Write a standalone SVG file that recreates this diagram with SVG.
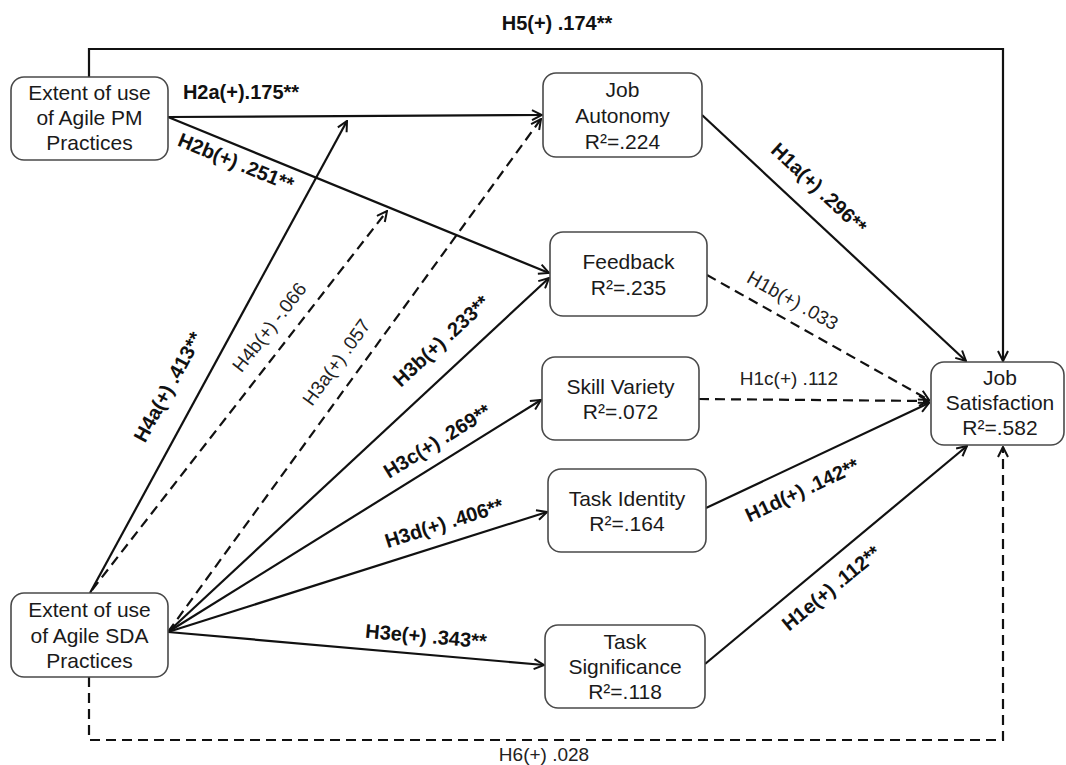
<svg xmlns="http://www.w3.org/2000/svg" width="1066" height="765" viewBox="0 0 1066 765">
<style>
.box{fill:#fff;stroke:#4a4a4a;stroke-width:1.6}
.nt{font-family:"Liberation Sans",Arial,sans-serif;font-size:21px;fill:#1a1a1a;text-anchor:middle}
.ln{fill:none;stroke:#111;stroke-width:2.2}
.dl{fill:none;stroke:#111;stroke-width:2.2;stroke-dasharray:10 6}
.lb{font-family:"Liberation Sans",Arial,sans-serif;font-size:20px;font-weight:bold;fill:#111;text-anchor:middle}
.lr{font-family:"Liberation Sans",Arial,sans-serif;font-size:19px;fill:#222;text-anchor:middle}
</style>
<defs>
<marker id="arr" viewBox="0 0 12 12" refX="11" refY="6" markerWidth="12" markerHeight="12" markerUnits="userSpaceOnUse" orient="auto">
<path d="M1,1 L11,6 L1,11" fill="none" stroke="#111" stroke-width="2" stroke-dasharray="none"/>
</marker>
</defs>
<rect width="1066" height="765" fill="#fff"/>

<g id="connectors">
<path class="ln" d="M89,77 V49 H1003 V361" marker-end="url(#arr)"/>
<path class="ln" d="M168,117 L542,115" marker-end="url(#arr)"/>
<path class="ln" d="M168,117 L549,273" marker-end="url(#arr)"/>
<path class="ln" d="M90,593 L347,121" marker-end="url(#arr)"/>
<path class="dl" d="M92,590 L387,211" marker-end="url(#arr)"/>
<path class="dl" d="M168,632 L541,119" marker-end="url(#arr)"/>
<path class="ln" d="M168,632 L549,278" marker-end="url(#arr)"/>
<path class="ln" d="M168,632 L541,400" marker-end="url(#arr)"/>
<path class="ln" d="M168,632 L547,512" marker-end="url(#arr)"/>
<path class="ln" d="M168,632 L544,665" marker-end="url(#arr)"/>
<path class="ln" d="M702,115 L966,361" marker-end="url(#arr)"/>
<path class="dl" d="M707,275 L929,400" marker-end="url(#arr)"/>
<path class="dl" d="M699,399 L929,401" marker-end="url(#arr)"/>
<path class="ln" d="M706,508 L929,403" marker-end="url(#arr)"/>
<path class="ln" d="M705,664 L967,446" marker-end="url(#arr)"/>
<path class="dl" d="M89,677 V740 H1003 V447" marker-end="url(#arr)"/>
</g>

<g id="edge-labels">
<text class="lb" x="557" y="30">H5(+) .174**</text>
<text class="lb" x="241" y="99">H2a(+).175**</text>
<text class="lb" transform="translate(236,162) rotate(22.2)" y="7">H2b(+) .251**</text>
<text class="lb" transform="translate(168,387) rotate(-61.3)" y="7">H4a(+) .413**</text>
<text class="lr" transform="translate(269,327) rotate(-52.1)" y="7">H4b(+) -.066</text>
<text class="lr" transform="translate(336,362) rotate(-54)" y="7">H3a(+) .057</text>
<text class="lb" transform="translate(441,341) rotate(-42.9)" y="7">H3b(+) .233**</text>
<text class="lb" transform="translate(437,441) rotate(-31.8)" y="7">H3c(+) .269**</text>
<text class="lb" transform="translate(444,523) rotate(-17.5)" y="7">H3d(+) .406**</text>
<text class="lb" transform="translate(426,636) rotate(5)" y="7">H3e(+) .343**</text>
<text class="lb" transform="translate(819,188) rotate(43.1)" y="7">H1a(+) .296**</text>
<text class="lr" transform="translate(793,300) rotate(29.3)" y="7">H1b(+) .033</text>
<text class="lr" x="789" y="385">H1c(+) .112</text>
<text class="lb" transform="translate(802,490) rotate(-25.1)" y="7">H1d(+) .142**</text>
<text class="lb" transform="translate(831,588) rotate(-39.6)" y="7">H1e(+) .112**</text>
<text class="lr" x="544" y="761">H6(+) .028</text>
</g>

<g id="node-pm">
<rect class="box" x="11" y="77" width="157" height="83" rx="13"/>
<text class="nt" x="89.5" y="100">Extent of use</text>
<text class="nt" x="89.5" y="125">of Agile PM</text>
<text class="nt" x="89.5" y="150">Practices</text>
</g>
<g id="node-sda">
<rect class="box" x="11" y="593" width="157" height="84" rx="13"/>
<text class="nt" x="89.5" y="617">Extent of use</text>
<text class="nt" x="89.5" y="643">of Agile SDA</text>
<text class="nt" x="89.5" y="668">Practices</text>
</g>
<g id="node-autonomy">
<rect class="box" x="543" y="73" width="159" height="84" rx="13"/>
<text class="nt" x="622.5" y="97">Job</text>
<text class="nt" x="622.5" y="123">Autonomy</text>
<text class="nt" x="622.5" y="149">R²=.224</text>
</g>
<g id="node-feedback">
<rect class="box" x="550" y="232" width="157" height="84" rx="13"/>
<text class="nt" x="628.5" y="269">Feedback</text>
<text class="nt" x="628.5" y="295">R²=.235</text>
</g>
<g id="node-skill">
<rect class="box" x="542" y="357" width="157" height="83" rx="13"/>
<text class="nt" x="620.5" y="394">Skill Variety</text>
<text class="nt" x="620.5" y="419">R²=.072</text>
</g>
<g id="node-identity">
<rect class="box" x="548" y="469" width="158" height="83" rx="13"/>
<text class="nt" x="627" y="506">Task Identity</text>
<text class="nt" x="627" y="531">R²=.164</text>
</g>
<g id="node-significance">
<rect class="box" x="545" y="625" width="160" height="83" rx="13"/>
<text class="nt" x="625" y="649">Task</text>
<text class="nt" x="625" y="674">Significance</text>
<text class="nt" x="625" y="699">R²=.118</text>
</g>
<g id="node-satisfaction">
<rect class="box" x="931" y="362" width="133" height="83" rx="13"/>
<text class="nt" x="1000" y="385">Job</text>
<text class="nt" x="1000" y="410">Satisfaction</text>
<text class="nt" x="1000" y="435">R²=.582</text>
</g>
</svg>
